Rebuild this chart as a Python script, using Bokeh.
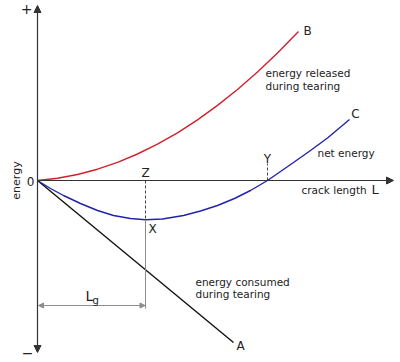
import math
from bokeh.plotting import figure
from bokeh.models import Range1d, Arrow, NormalHead, Label
from bokeh.embed import file_html
from bokeh.resources import INLINE

# ---- data (crack length L, energy) ----
released_L = [0, 2, 4, 6, 8, 10, 12, 14, 16, 18, 20, 22, 24, 26.1]
released_E = [0, 0.23, 0.60, 1.13, 1.82, 2.65, 3.64, 4.77, 6.06, 7.51, 9.1, 10.85, 12.74, 14.9]

consumed_L = [0, 19.6]
consumed_E = [0, -16.2]

net_L = [0, 1.3, 2.6, 4.3, 6.0, 7.6, 9.3, 10.8, 12.5, 14.6, 16.3, 18.0, 19.7, 21.3,
         23.0, 24.3, 25.6, 27.3, 29.0, 31.2]
net_E = [0, -0.8, -1.5, -2.3, -3.0, -3.5, -3.8, -3.92, -3.85, -3.5, -3.05, -2.5, -1.8, -1.0,
         0.0, 0.9, 1.8, 3.0, 4.25, 6.1]

L_g = 10.8          # crack length at the net-energy minimum (X / Z)
L_y = 23.0          # crack length where net energy crosses zero (Y)
E_min = -3.92

FONT = "DejaVu Sans"
AX = "#333333"
GREY = "#8c8c8c"
RED = "#d0202e"
BLUE = "#2222aa"

p = figure(width=400, height=362, output_backend="svg", toolbar_location=None,
           x_range=Range1d(-3.7, 36.3), y_range=Range1d(-18.2, 18.0),
           min_border=0)
p.axis.visible = False
p.grid.visible = False
p.outline_line_color = None

# axes with arrows
p.add_layout(Arrow(end=NormalHead(size=7, fill_color=AX, line_color=AX),
                   x_start=0, y_start=0, x_end=35.6, y_end=0,
                   line_color=AX, line_width=1.2))
p.add_layout(Arrow(start=NormalHead(size=7, fill_color=AX, line_color=AX),
                   end=NormalHead(size=7, fill_color=AX, line_color=AX),
                   x_start=0, y_start=-17.2, x_end=0, y_end=17.5,
                   line_color=AX, line_width=1.2))

# curves
p.line(released_L, released_E, line_color=RED, line_width=1.4)
p.line(consumed_L, consumed_E, line_color="#111111", line_width=1.4)
p.line(net_L, net_E, line_color=BLUE, line_width=1.4)

# guides
p.line([L_g, L_g], [0, E_min], line_color="#444444", line_dash="3 2", line_width=1)
p.line([L_g, L_g], [E_min, -12.8], line_color=GREY, line_width=1)
p.line([L_y, L_y], [0, 1.7], line_color="#444444", line_dash="3 2", line_width=1)
p.add_layout(Arrow(start=NormalHead(size=5, fill_color=GREY, line_color=GREY),
                   end=NormalHead(size=5, fill_color=GREY, line_color=GREY),
                   x_start=0.1, y_start=-12.5, x_end=L_g - 0.05, y_end=-12.5,
                   line_color=GREY, line_width=1))

def lab(x, y, t, size=10, align="left", angle=0, color="#222222", base="middle"):
    p.add_layout(Label(x=x, y=y, text=t, text_font=FONT, text_font_size=f"{size}px",
                       text_align=align, text_baseline=base, angle=angle,
                       text_color=color))

lab(-1.1, 17.2, "+", 14, "center")
lab(-1.0, -17.2, "\u2212", 14, "center")
lab(-0.7, -0.1, "0", 12, "center")
lab(-2.1, 0.0, "energy", 11, "center", angle=math.pi / 2)

lab(L_g, 0.8, "Z", 12, "center")
lab(L_g + 0.7, -4.8, "X", 12, "center")
lab(L_y, 2.2, "Y", 12, "center")
lab(released_L[-1] + 0.9, released_E[-1] + 0.1, "B", 12, "center")
lab(net_L[-1] + 0.6, net_E[-1] + 0.6, "C", 12, "center")
lab(consumed_L[-1] + 0.7, consumed_E[-1] - 0.3, "A", 12, "center")

TS = 10.5
lab(22.8, 10.8, "energy released", TS)
lab(22.8, 9.5, "during tearing", TS)
lab(28.0, 2.8, "net energy", TS)
lab(26.4, -0.9, "crack length", TS)
lab(33.4, -0.9, "L", 13)
lab(15.8, -10.1, "energy consumed", TS)
lab(15.8, -11.3, "during tearing", TS)

lab(4.8, -11.5, "L", 14)
lab(5.5, -12.0, "g", 10)

open("out.html", "w").write(file_html(p, INLINE))
